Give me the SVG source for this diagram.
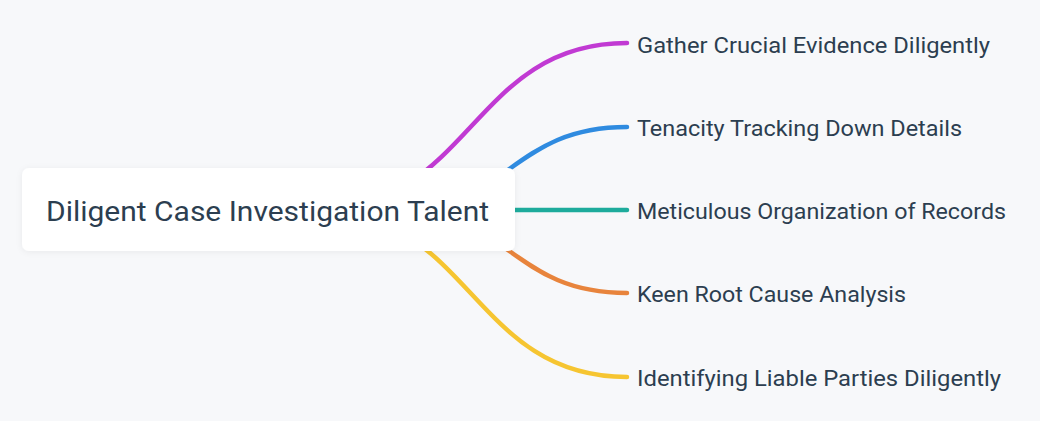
<svg xmlns="http://www.w3.org/2000/svg" width="1040" height="421" viewBox="0 0 1040 421">
<defs>
<style>
.bg{fill:#f7f8fa}
.conn{fill:none;stroke-width:4.5;stroke-linecap:round}
.box{fill:#ffffff}
.t{font-family:Roboto,"Noto Sans",sans-serif;fill:#2c3e50}
.leaf{font-size:22px}
.root{font-size:28px}
</style>
<filter id="sh" x="-10%" y="-30%" width="120%" height="160%">
<feDropShadow dx="0" dy="1" stdDeviation="3" flood-color="#000" flood-opacity="0.06"/>
</filter>
</defs>
<rect class="bg" x="0" y="0" width="1040" height="421"/>
<g id="connectors">
<path class="conn" stroke="#c13ad3" d="M315 210 C471 210 471 43 627 43"/>
<path class="conn" stroke="#2f8be0" d="M393 210 C510 210 510 127 627 127"/>
<path class="conn" stroke="#1eab9c" d="M480 210 L627 210"/>
<path class="conn" stroke="#e8843c" d="M393 210 C510 210 510 293 627 293"/>
<path class="conn" stroke="#f6c531" d="M315 210 C471 210 471 377 627 377"/>
</g>
<g id="root">
<rect class="box" x="22" y="168" width="493" height="83" rx="7" filter="url(#sh)"/>
<text class="t root" x="46" y="221" textLength="443" lengthAdjust="spacingAndGlyphs">Diligent Case Investigation Talent</text>
</g>
<g id="n1"><text class="t leaf" x="637" y="53" textLength="353" lengthAdjust="spacingAndGlyphs">Gather Crucial Evidence Diligently</text></g>
<g id="n2"><text class="t leaf" x="637" y="136" textLength="325" lengthAdjust="spacingAndGlyphs">Tenacity Tracking Down Details</text></g>
<g id="n3"><text class="t leaf" x="637" y="219" textLength="369" lengthAdjust="spacingAndGlyphs">Meticulous Organization of Records</text></g>
<g id="n4"><text class="t leaf" x="637" y="302" textLength="269" lengthAdjust="spacingAndGlyphs">Keen Root Cause Analysis</text></g>
<g id="n5"><text class="t leaf" x="637" y="386" textLength="364" lengthAdjust="spacingAndGlyphs">Identifying Liable Parties Diligently</text></g>
</svg>
